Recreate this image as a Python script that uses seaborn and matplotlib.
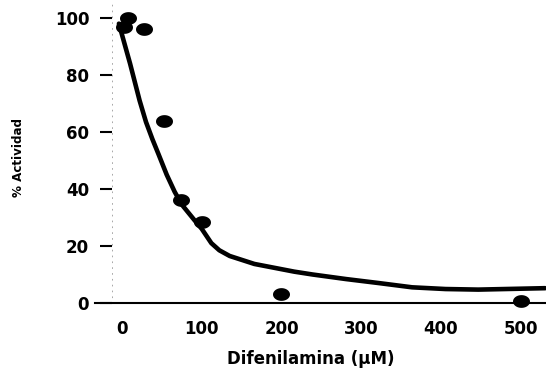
import numpy as np
import pandas as pd
import matplotlib
matplotlib.use("Agg")
import matplotlib.pyplot as plt
from matplotlib.path import Path
import seaborn as sns

# measured points
conc = [8, 2, 28, 52, 74, 100, 199, 500]
activity = [100, 97, 96, 64, 36, 28.4, 3.3, 0.8]

# fitted curve
curve_x = [-4, 10, 22, 30, 38, 46, 56, 66, 75, 91, 100, 112, 122, 135, 166, 216, 239, 281, 322, 364, 406, 447, 531]
curve_y = [98, 84, 71, 63.5, 57.5, 52, 45, 39, 34.5, 29, 26, 21, 18.5, 16.5, 13.7, 11, 10, 8.4, 7, 5.5, 4.9, 4.7, 5.2]

x_ticks = [0, 100, 200, 300, 400, 500]
y_ticks = [0, 20, 40, 60, 80, 100]

pts = pd.DataFrame({"conc": conc, "activity": activity})
fit = pd.DataFrame({"conc": curve_x, "activity": curve_y})

sns.set_theme(style="white")
plt.rcParams['font.family'] = ['DejaVu Sans']
plt.rcParams['text.color'] = 'black'
plt.rcParams['xtick.color'] = 'black'
plt.rcParams['ytick.color'] = 'black'
plt.rcParams['axes.labelcolor'] = 'black'

fig = plt.figure(figsize=(5.46, 3.68), dpi=100)
ax = fig.add_axes([95 / 546, 65 / 368, 451 / 546, 303 / 368])

# slightly flattened dot
t = np.linspace(0, 2 * np.pi, 40)
ellipse = Path(np.column_stack([np.cos(t), 0.75 * np.sin(t)]), closed=True)

sns.lineplot(data=fit, x="conc", y="activity", ax=ax, color="black",
             linewidth=3.3, solid_capstyle="round", solid_joinstyle="round",
             clip_on=False)
sns.scatterplot(data=pts, x="conc", y="activity", ax=ax, color="black",
                marker=ellipse, s=150, edgecolor="black", linewidth=0,
                clip_on=False, zorder=5)

ax.set_xlim(-34, 532)
ax.set_ylim(0, 106.3)
ax.set_xticks(x_ticks)
ax.set_yticks(y_ticks)

for side in ["top", "right"]:
    ax.spines[side].set_visible(False)
ax.spines['bottom'].set_color("black")
ax.spines['bottom'].set_linewidth(1.5)
ax.spines['left'].set_position(('data', -12.5))
ax.spines['left'].set_color("#999999")
ax.spines['left'].set_linewidth(0.6)
ax.spines['left'].set_linestyle((0, (1, 6)))

ax.tick_params(axis='y', direction='out', length=8.5, width=1.5, color="black",
               pad=8, labelsize=12, left=True)
ax.tick_params(axis='x', length=0, pad=12, labelsize=12)
for lab in ax.get_xticklabels() + ax.get_yticklabels():
    lab.set_fontweight("bold")

ax.set_xlabel("Difenilamina (µM)", fontsize=12, fontweight="bold")
ax.xaxis.set_label_coords(0.479, -0.155)
ax.set_ylabel("% Actividad", fontsize=9.5, fontweight="bold", fontstretch="condensed")
ax.yaxis.set_label_coords(-0.155, 0.479)

fig.savefig("out.png", dpi=100)
